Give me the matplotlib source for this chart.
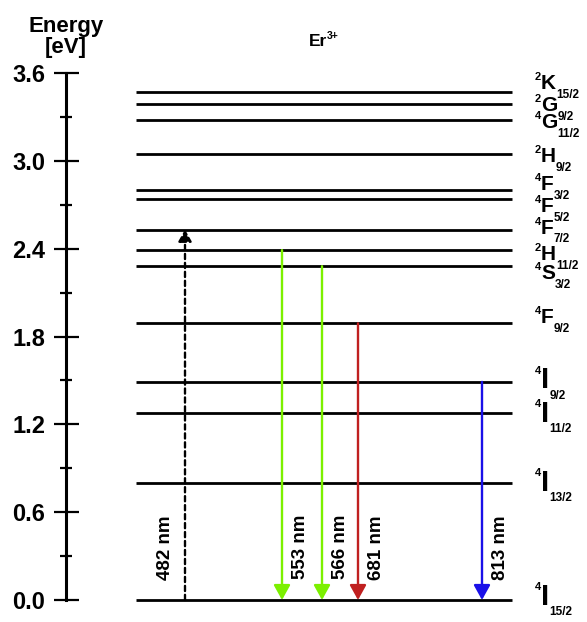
import matplotlib.pyplot as plt
import numpy as np

plt.rcParams['font.family'] = ['Liberation Sans', 'DejaVu Sans']
plt.rcParams['font.weight'] = 'bold'

# Er3+ energy levels (eV)
level_mult = ['4', '4', '4', '4', '4', '4', '2', '4', '4', '4', '2', '4', '2', '2']
level_letter = ['I', 'I', 'I', 'I', 'F', 'S', 'H', 'F', 'F', 'F', 'H', 'G', 'G', 'K']
level_j = ['15/2', '13/2', '11/2', '9/2', '9/2', '3/2', '11/2', '7/2', '5/2', '3/2', '9/2', '11/2', '9/2', '15/2']
level_energy = [0.0, 0.80, 1.28, 1.49, 1.89, 2.28, 2.39, 2.53, 2.74, 2.80, 3.05, 3.28, 3.39, 3.47]
# where each term label sits (eV); the upper ones are crowded, so not exactly on their lines
label_energy = [0.02, 0.80, 1.27, 1.50, 1.93, 2.23, 2.36, 2.54, 2.69, 2.84, 3.03, 3.26, 3.38, 3.53]

# transitions: wavelength, upper level, lower level
trans_nm = ['482 nm', '553 nm', '566 nm', '681 nm', '813 nm']
trans_from = [0.0, 2.39, 2.28, 1.89, 1.49]
trans_to = [2.53, 0.0, 0.0, 0.0, 0.0]
trans_color = ['black', '#7cf000', '#7cf000', '#c02020', '#1a10e8']
trans_x = [119, 216, 256, 292, 416]

fig = plt.figure(figsize=(5.87, 6.22), dpi=100, facecolor='white')
ax = fig.add_axes([66 / 587, 22 / 622, 521 / 587, 527 / 622])
ax.set_xlim(0, 521)
ax.set_ylim(0, 3.6)

for s in ['top', 'right', 'bottom']:
    ax.spines[s].set_visible(False)
ax.spines['left'].set_linewidth(2.2)
ax.set_xticks([])
ax.set_yticks(np.arange(0, 3.61, 0.6))
ax.set_yticks(np.arange(0.3, 3.6, 0.6), minor=True)
ax.yaxis.set_major_formatter(plt.FormatStrFormatter('%.1f'))
ax.tick_params(axis='y', which='major', direction='inout', length=18, width=1.6,
               labelsize=17, pad=6)
ax.tick_params(axis='y', which='minor', direction='inout', length=9, width=1.6)
for lab in ax.get_yticklabels():
    lab.set_fontweight('bold')

# levels with term symbols
for mult, letter, j, e, le in zip(level_mult, level_letter, level_j, level_energy, label_energy):
    ax.plot([70, 446], [e, e], color='black', lw=2.0, clip_on=False, solid_capstyle='butt')
    size = 21 if letter == 'I' else 15
    main = ax.text(475, le, letter, fontsize=size, fontweight='bold', va='center', ha='left')
    ax.annotate(mult, xy=(0, 0.85), xycoords=main, xytext=(0, 0), textcoords='offset points',
                ha='right', va='center', fontsize=8, fontweight='bold')
    ax.annotate(j, xy=(1, 0.05), xycoords=main, xytext=(0, -2), textcoords='offset points',
                ha='left', va='center', fontsize=8.5, fontweight='bold')

# transitions
for i, (lab, e0, e1, c, x) in enumerate(zip(trans_nm, trans_from, trans_to, trans_color, trans_x)):
    if i == 0:
        style = '-|>,head_length=0.35,head_width=0.2'
        ls = (0, (2.2, 1.6))
    else:
        style = '-|>,head_length=0.45,head_width=0.25'
        ls = '-'
    ax.annotate('', xy=(x, e1), xytext=(x, e0),
                arrowprops=dict(arrowstyle=style, color=c, lw=1.7,
                                linestyle=ls, mutation_scale=20, shrinkA=0, shrinkB=0),
                annotation_clip=False)
    dx = -8 if i == 0 else 7
    ax.annotate(lab, xy=(x, 0.36), xytext=(dx, 0), textcoords='offset points',
                rotation=90, va='center', ha='right' if i == 0 else 'left',
                fontsize=13.5, fontweight='bold')

fig.text(66 / 587, 1 - 37 / 622, 'Energy\n[eV]', ha='center', va='center',
         fontsize=16, fontweight='bold', linespacing=0.95)
er = fig.text(318 / 587, 1 - 42 / 622, 'Er', ha='center', va='center',
              fontsize=12.5, fontweight='bold')
ax.annotate('3+', xy=(1, 0.9), xycoords=er, xytext=(0, 0), textcoords='offset points',
            ha='left', va='center', fontsize=7.5, fontweight='bold')

fig.savefig('out.png', dpi=100, facecolor='white')
